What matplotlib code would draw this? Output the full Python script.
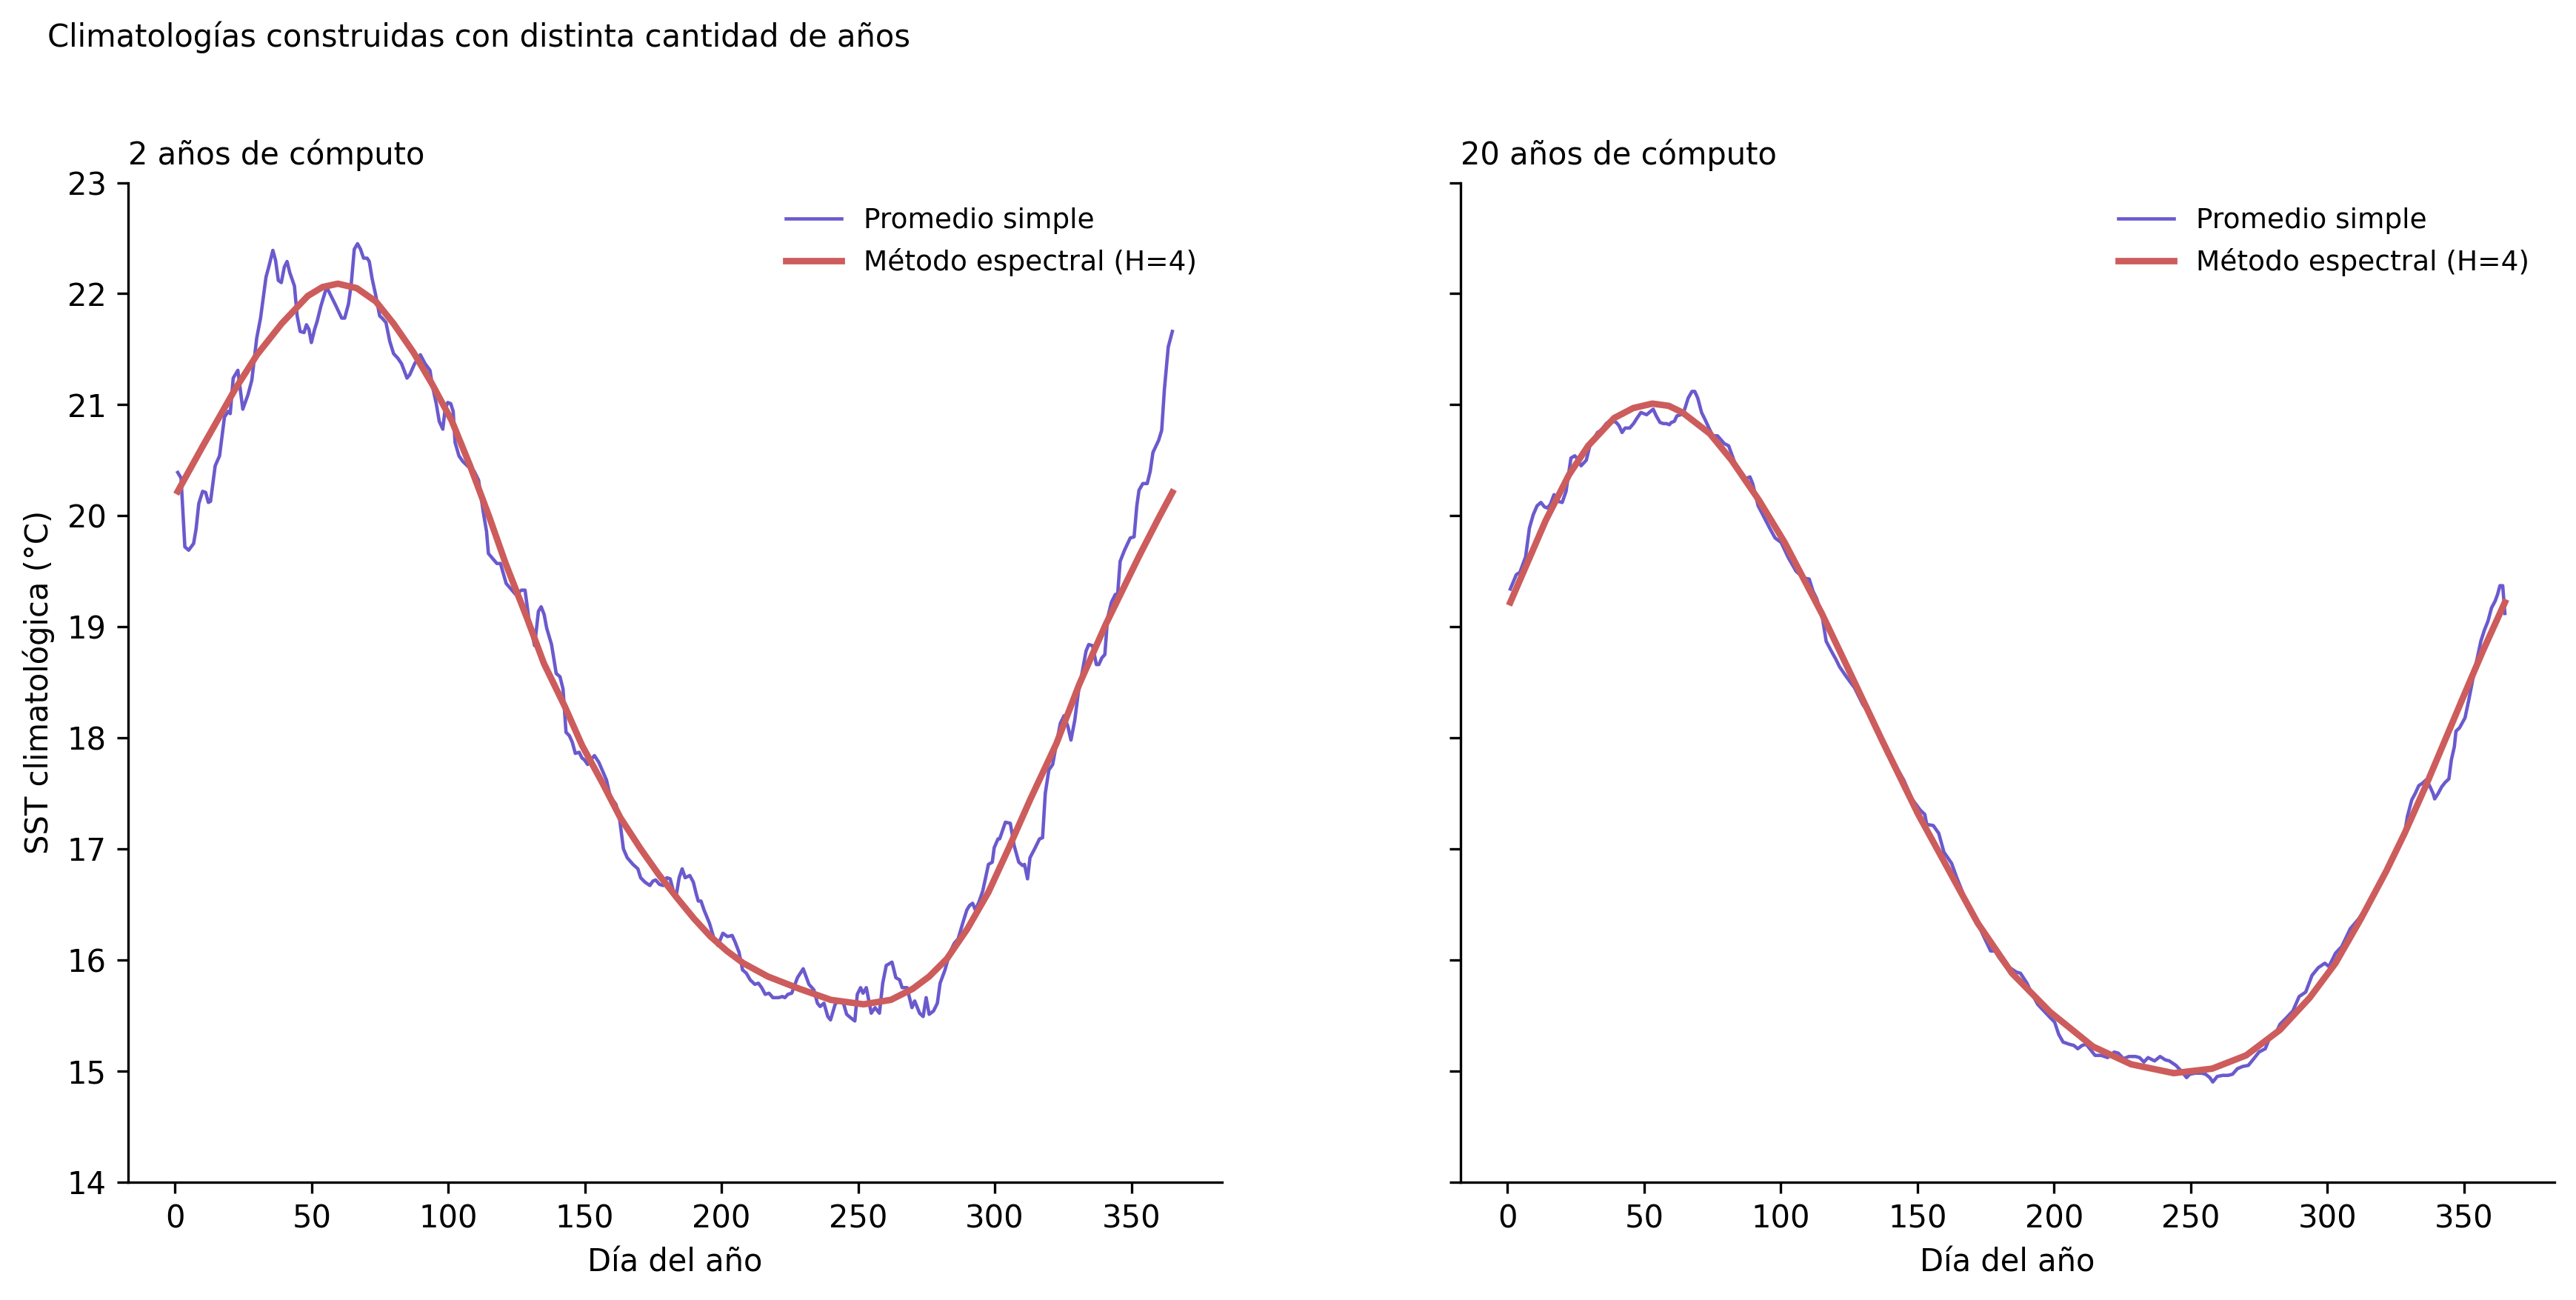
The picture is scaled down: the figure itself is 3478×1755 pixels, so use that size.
import numpy as np
import matplotlib
matplotlib.use("Agg")
import matplotlib.pyplot as plt

# (dia, sst)
prom_2 = [
    (1, 20.39), (2.2, 20.34), (3.6, 19.72), (5, 19.69), (6.8, 19.75), (7.7, 19.88), (8.7, 20.11),
    (10.1, 20.22), (11.2, 20.21), (12.2, 20.12), (13, 20.13), (14.7, 20.45), (16.3, 20.54),
    (18.1, 20.89), (19.5, 20.94), (20.2, 20.92), (21.3, 21.24), (23, 21.31), (24.8, 20.96),
    (26.7, 21.09), (28.1, 21.22), (29.9, 21.60), (31.3, 21.78), (33.3, 22.15), (34.4, 22.25),
    (35.8, 22.39), (36.8, 22.30), (37.8, 22.12), (38.9, 22.10), (40, 22.24), (41, 22.29),
    (42, 22.19), (43.7, 22.07), (44.7, 21.80), (45.8, 21.66), (47.2, 21.65), (48.1, 21.72),
    (49, 21.68), (49.9, 21.56), (51.1, 21.68), (52, 21.75), (53.4, 21.89), (55.5, 22.06),
    (56.9, 21.99), (58.9, 21.89), (61, 21.78), (62.1, 21.78), (63.5, 21.91), (64.5, 22.09),
    (65.6, 22.40), (66.8, 22.45), (67.9, 22.40), (69, 22.32), (70.3, 22.32), (71.1, 22.29),
    (72.1, 22.14), (73.5, 21.98), (74.9, 21.80), (75.8, 21.78), (77.2, 21.74), (78.6, 21.57),
    (80, 21.46), (81.5, 21.42), (82.9, 21.37), (84.9, 21.24), (85.9, 21.27), (87.7, 21.37),
    (89.8, 21.45), (91.5, 21.37), (93.3, 21.31), (94.2, 21.17), (95.6, 21.01), (96.7, 20.85),
    (98, 20.78), (98.8, 20.95), (99.8, 21.02), (100.9, 21.01), (101.8, 20.94), (102.5, 20.66),
    (103.9, 20.54), (105.3, 20.49), (107.4, 20.44), (109.5, 20.40), (111.1, 20.32),
    (112.9, 20.02), (114, 19.86), (114.7, 19.66), (116.4, 19.61), (117.8, 19.57),
    (119.1, 19.57), (121.2, 19.39), (122.6, 19.35), (124.7, 19.29), (126.8, 19.33),
    (128.1, 19.33), (129.5, 19.07), (131.6, 18.83), (133, 19.14), (134, 19.18), (135.1, 19.11),
    (136, 18.99), (137.8, 18.84), (139.5, 18.58), (140.9, 18.55), (142, 18.44), (143.1, 18.05),
    (144.3, 18.02), (145.4, 17.96), (146.5, 17.86), (147.9, 17.87), (148.9, 17.82),
    (149.9, 17.80), (151, 17.76), (152.1, 17.80), (153.5, 17.84), (155.1, 17.78),
    (156.5, 17.70), (157.9, 17.62), (159.3, 17.47), (161.4, 17.40), (162.7, 17.27),
    (164.1, 17.00), (165.5, 16.92), (167.6, 16.86), (169.4, 16.82), (170.4, 16.74),
    (172, 16.70), (173.8, 16.67), (174.9, 16.71), (175.9, 16.72), (177.3, 16.68),
    (178.7, 16.67), (180, 16.74), (181.2, 16.73), (182.4, 16.62), (183.5, 16.59),
    (184.5, 16.74), (185.6, 16.82), (186.7, 16.74), (188.4, 16.76), (189.7, 16.70),
    (190.8, 16.59), (191.5, 16.53), (192.5, 16.53), (193.6, 16.45), (195.6, 16.33),
    (197.4, 16.18), (198.7, 16.13), (200.5, 16.24), (202.2, 16.21), (203.9, 16.22),
    (205, 16.16), (206.4, 16.07), (207.7, 15.91), (209.1, 15.88), (210.5, 15.82),
    (212.2, 15.78), (213.5, 15.79), (214.7, 15.75), (216, 15.69), (217.4, 15.70),
    (218.8, 15.66), (220.9, 15.66), (222.3, 15.67), (223.2, 15.66), (224.3, 15.69),
    (225.7, 15.70), (227.8, 15.84), (229.9, 15.92), (232, 15.78), (233.8, 15.73),
    (235.1, 15.61), (236.1, 15.58), (237.5, 15.61), (238.9, 15.49), (239.9, 15.46),
    (241.6, 15.60), (243, 15.64), (244.4, 15.63), (245.8, 15.51), (247.2, 15.48),
    (248.8, 15.45), (249.7, 15.69), (250.9, 15.75), (251.8, 15.70), (253, 15.75),
    (254.8, 15.52), (256.2, 15.57), (257.8, 15.52), (259, 15.79), (260.3, 15.95),
    (262.4, 15.98), (263.8, 15.84), (265.2, 15.82), (266.1, 15.75), (267.9, 15.75),
    (269.7, 15.57), (270.7, 15.63), (272.5, 15.52), (273.8, 15.49), (274.9, 15.66),
    (276, 15.51), (277.6, 15.54), (279, 15.61), (280, 15.79), (281.8, 15.91), (283.6, 16.07),
    (285.2, 16.15), (286.6, 16.19), (288.4, 16.34), (289.8, 16.45), (290.8, 16.49),
    (291.9, 16.51), (292.9, 16.45), (294.2, 16.52), (295.6, 16.62), (297.7, 16.86),
    (299.1, 16.88), (299.8, 17.01), (301.2, 17.09), (301.8, 17.09), (303.9, 17.24),
    (305.7, 17.23), (307.1, 17.03), (308.8, 16.88), (310.2, 16.85), (310.9, 16.86),
    (312, 16.73), (312.9, 16.92), (314.6, 17.00), (316.4, 17.09), (317.5, 17.10),
    (318.5, 17.50), (319.8, 17.71), (321.2, 17.76), (322.6, 17.95), (324, 18.13),
    (325.4, 18.20), (326.8, 18.10), (327.9, 17.98), (329.3, 18.16), (330.6, 18.41),
    (332.3, 18.63), (333.4, 18.78), (334.4, 18.84), (335.8, 18.83), (337.2, 18.66),
    (338.1, 18.66), (339.2, 18.72), (340.3, 18.75), (341.3, 19.08), (342.7, 19.22),
    (344.1, 19.29), (345, 19.30), (345.9, 19.59), (347.5, 19.69), (349.6, 19.80),
    (351, 19.81), (352, 20.09), (352.8, 20.23), (354.2, 20.29), (355.8, 20.29),
    (356.9, 20.40), (357.9, 20.57), (360, 20.68), (361.1, 20.77), (362.1, 21.14),
    (363.5, 21.52), (365, 21.66),
]

espec_2 = [
    (1, 20.22), (10, 20.62), (22, 21.14), (30, 21.45), (39, 21.73), (48.6, 21.98),
    (54, 22.06), (59.6, 22.09), (66.5, 22.05), (73.5, 21.93), (80, 21.73), (87.3, 21.47),
    (94, 21.19), (101.2, 20.86), (108, 20.45), (115, 19.99), (121, 19.57), (128.8, 19.08),
    (135, 18.67), (142.7, 18.28), (149, 17.93), (156.5, 17.59), (163, 17.28), (170.4, 17.0),
    (177, 16.77), (184, 16.55), (190, 16.37), (196, 16.21), (202, 16.08), (208, 15.97),
    (217, 15.85), (228.5, 15.74), (240, 15.64), (252, 15.60), (262, 15.64), (270, 15.74),
    (276, 15.85), (282.5, 16.01), (290, 16.28), (297.7, 16.61), (305, 17.0), (312.9, 17.44),
    (322.6, 17.95), (330.9, 18.48), (340.6, 19.02), (353.1, 19.65), (360, 19.98),
    (365, 20.21),
]

prom_20 = [
    (1, 19.34), (3.2, 19.47), (4.5, 19.49), (6.6, 19.63), (8, 19.89), (9.4, 20.01),
    (10.8, 20.09), (12.2, 20.12), (13.5, 20.08), (14.5, 20.07), (15.6, 20.10), (17, 20.19),
    (18.4, 20.13), (20, 20.12), (21.4, 20.22), (23.2, 20.52), (24.6, 20.54), (26, 20.50),
    (26.9, 20.45), (28.8, 20.50), (30.1, 20.63), (31.5, 20.69), (32.9, 20.75), (34.3, 20.77),
    (36.1, 20.83), (37.8, 20.86), (39.8, 20.84), (40.8, 20.81), (41.9, 20.75), (43, 20.79),
    (44.7, 20.79), (46.1, 20.83), (47.4, 20.88), (48.8, 20.93), (50.9, 20.91), (52.3, 20.94),
    (53.3, 20.96), (54.4, 20.90), (55.8, 20.84), (57.1, 20.83), (58.2, 20.83), (59.2, 20.82),
    (59.9, 20.84), (61, 20.85), (62, 20.90), (63.4, 20.91), (64.7, 20.95), (66.1, 21.06),
    (67.5, 21.12), (68.5, 21.12), (69.6, 21.06), (71, 20.93), (72.4, 20.86), (73.7, 20.79),
    (75.1, 20.72), (76.8, 20.72), (77.9, 20.69), (79.3, 20.65), (80.9, 20.63), (82.1, 20.55),
    (83.4, 20.46), (84.8, 20.41), (86.9, 20.33), (88.7, 20.35), (89.7, 20.29), (91.7, 20.09),
    (93.8, 19.99), (95.9, 19.89), (97.9, 19.80), (100.1, 19.76), (102.8, 19.62),
    (105.6, 19.50), (108.3, 19.44), (110.4, 19.43), (111.8, 19.32), (113.2, 19.25),
    (115.3, 19.07), (116.6, 18.87), (118.3, 18.79), (120.1, 18.71), (121.5, 18.64),
    (124, 18.55), (127, 18.45), (130, 18.30), (133, 18.20), (136, 18.05), (139, 17.85),
    (142, 17.75), (145, 17.62), (148, 17.45), (151, 17.35), (152.7, 17.31), (153.4, 17.22),
    (155.8, 17.21), (157.8, 17.14), (159.7, 16.97), (162.5, 16.87), (164.4, 16.74),
    (167.5, 16.55), (170.6, 16.40), (171.8, 16.35), (173.7, 16.24), (176.8, 16.08),
    (178.4, 16.08), (179.9, 16.02), (182.3, 15.94), (183.8, 15.93), (186.2, 15.89),
    (187.7, 15.88), (190.1, 15.79), (191.6, 15.71), (194, 15.60), (196.3, 15.54),
    (198.6, 15.48), (200.2, 15.44), (201.7, 15.33), (203.3, 15.26), (205.6, 15.24),
    (207.2, 15.23), (208.7, 15.20), (210.3, 15.23), (211.8, 15.24), (213.4, 15.19),
    (215, 15.14), (217.3, 15.14), (219.6, 15.12), (222, 15.17), (223.5, 15.16),
    (225.4, 15.11), (227.4, 15.13), (229.8, 15.13), (231.3, 15.12), (232.9, 15.08),
    (234.4, 15.12), (236.8, 15.09), (238.8, 15.13), (240.7, 15.10), (242.2, 15.09),
    (244.6, 15.05), (246.9, 14.99), (248.5, 14.94), (249.7, 14.97), (251.6, 14.98),
    (254, 14.98), (255.5, 14.97), (257, 14.94), (258.1, 14.90), (259.7, 14.95),
    (261.7, 14.96), (263.7, 14.96), (265.3, 14.97), (267.1, 15.02), (269, 15.04),
    (271.1, 15.05), (273.1, 15.11), (275, 15.17), (277.3, 15.20), (279.3, 15.32),
    (281.2, 15.34), (282.7, 15.42), (285.1, 15.48), (287.4, 15.54), (289.7, 15.67),
    (292.1, 15.71), (294.4, 15.86), (296.7, 15.93), (299.1, 15.97), (300.6, 15.94),
    (303, 16.06), (305.3, 16.12), (308.4, 16.28), (311.5, 16.37), (313.9, 16.46),
    (317, 16.57), (320.1, 16.71), (323.1, 16.90), (325.7, 17.02), (328.3, 17.14),
    (329.3, 17.29), (330.9, 17.44), (332.2, 17.50), (333.5, 17.57), (334.8, 17.59),
    (336.1, 17.62), (337.4, 17.57), (338.7, 17.50), (339.3, 17.45), (340.6, 17.50),
    (341.9, 17.56), (343.2, 17.60), (344.5, 17.63), (345.4, 17.80), (346.5, 17.92),
    (347.1, 18.06), (348.4, 18.09), (350.4, 18.18), (351.7, 18.33), (353.6, 18.57),
    (354.9, 18.72), (356.2, 18.87), (357.5, 18.97), (358.8, 19.05), (360.1, 19.17),
    (361.4, 19.23), (362.3, 19.29), (363.2, 19.37), (364.2, 19.37), (365, 19.12),
]

espec_20 = [
    (1, 19.22), (14, 19.96), (22.5, 20.37), (29.5, 20.63), (39, 20.88), (46, 20.97),
    (53, 21.01), (59, 20.99), (64, 20.93), (74, 20.74), (82, 20.50), (92, 20.14),
    (101.4, 19.76), (115, 19.12), (124.3, 18.64), (137, 17.98), (150.3, 17.31),
    (161.2, 16.82), (172.1, 16.33), (184.6, 15.88), (198.6, 15.53), (214.2, 15.22),
    (228.2, 15.06), (243.8, 14.98), (257.8, 15.02), (270.3, 15.14), (282.7, 15.37),
    (293.6, 15.66), (303, 15.97), (312.3, 16.37), (321.6, 16.80), (328.3, 17.14),
    (336.1, 17.57), (349.1, 18.33), (356.9, 18.78), (365, 19.22),
]

titulos = ["2 años de cómputo", "20 años de cómputo"]
series = [(prom_2, espec_2), (prom_20, espec_20)]

fig, axs = plt.subplots(1, 2, figsize=(3478 / 300, 1755 / 300), dpi=300, sharey=True)
fig.subplots_adjust(left=0.0497, right=0.9917, bottom=0.0908, top=0.8595, wspace=0.218)

for ax, titulo, (prom, espec) in zip(axs, titulos, series):
    p = np.array(prom).T
    e = np.array(espec).T
    ax.plot(p[0], p[1], color="slateblue", lw=1.1, label="Promedio simple")
    ax.plot(e[0], e[1], color="indianred", lw=2.1, label="Método espectral (H=4)")
    ax.set_title(titulo, loc="left", fontsize=10)
    ax.set_xlabel("Día del año")
    ax.spines["top"].set_visible(False)
    ax.spines["right"].set_visible(False)
    ax.legend(frameon=False, loc="upper right", fontsize=9)

axs[0].set_ylim(14, 23)
axs[0].set_ylabel("SST climatológica (°C)")

fig.text(0.0185, 0.9715, "Climatologías construidas con distinta cantidad de años",
         ha="left", va="center", fontsize=10)

fig.savefig("out.png", dpi=300)
